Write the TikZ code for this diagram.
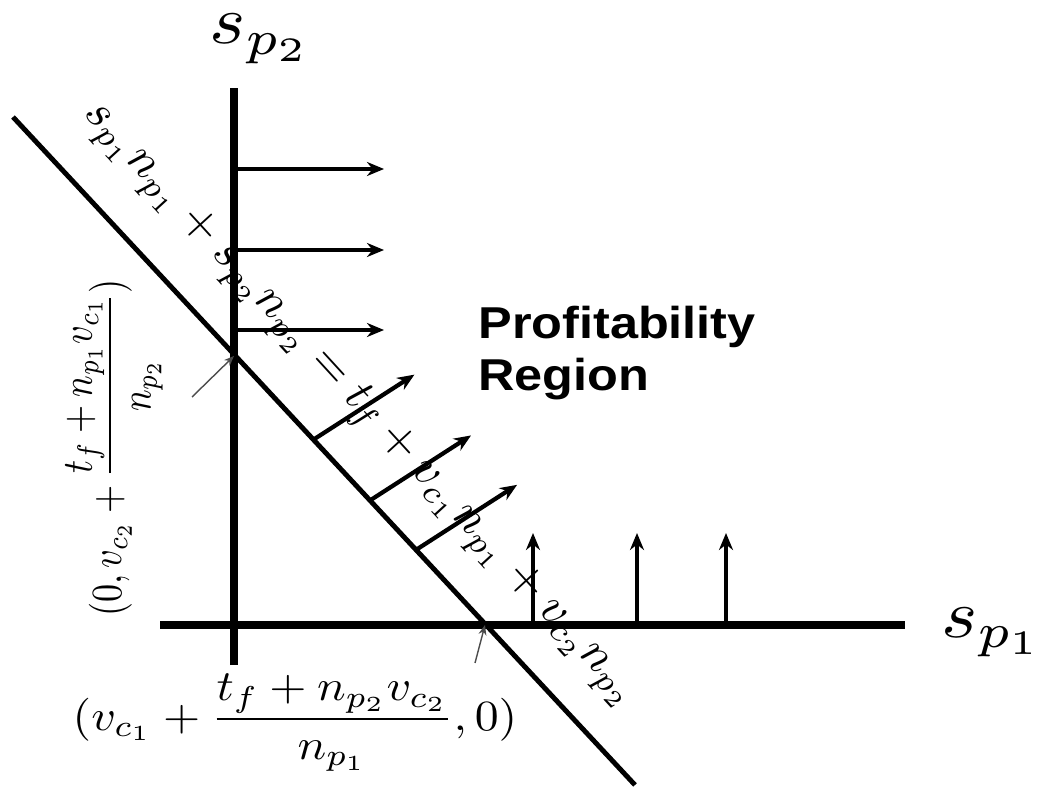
\documentclass[tikz,border=0pt]{standalone}
\usepackage{amsmath}
\usepackage{fontspec}
\setsansfont{Liberation Sans}
\usetikzlibrary{arrows.meta}

\begin{document}
\begin{tikzpicture}[
  x=0.02cm, y=-0.02cm,
  >={Stealth[length=3.4mm, width=2.8mm]},
  axis/.style={line width=4pt},
  cutline/.style={line width=2.8pt},
  flow/.style={->, line width=2.4pt},
  pointer/.style={-{Stealth[length=2mm, width=1.6mm]}, line width=0.8pt, black!70},
  axlbl/.style={inner sep=0pt, xscale=4.4, yscale=3.9},
  mathlbl/.style={inner sep=0pt},
  eqlbl/.style={inner sep=0pt, scale=2.7},
  region/.style={font=\fontsize{25.4}{29.6}\selectfont\sffamily\bfseries,
    align=left, inner sep=0pt, xscale=1.13},
]

\useasboundingbox (0,0) rectangle (1052,790);

% ---- Axes ----
\coordinate (vbot) at (234,665);
\coordinate (vtop) at (234,88);
\coordinate (hleft) at (160,625);
\coordinate (hright) at (905,625);
\draw[axis] (vbot) -- (vtop);
\draw[axis] (hleft) -- (hright);

\node[axlbl, anchor=base west] (sp2) at (208,44) {$s_{p_2}$};
\node[axlbl, anchor=base west] (sp1) at (940,637) {$s_{p_1}$};

% ---- Break-even line ----
\coordinate (ltop) at (13,117);
\coordinate (lbot) at (635,785);
\draw[cutline] (ltop) -- (lbot);

% intercepts with the axes
\coordinate (yint) at (234,356);
\coordinate (xint) at (485,625);

% ---- Direction arrows ----
\foreach \y [count=\i] in {169,250,330}
  {\coordinate (h\i) at (234,\y);
   \draw[flow] (h\i) -- ++(150,0);}

\foreach \t [count=\i] in {0.483,0.574,0.648}
  {\path (ltop) -- (lbot) coordinate[pos=\t] (d\i);
   \draw[flow] (d\i) -- ++(101,-65);}

\foreach \x [count=\i] in {533,637,726}
  {\coordinate (v\i) at (\x,625);
   \draw[flow] (v\i) -- ++(0,-92);}

% ---- Region label ----
\node[region, anchor=north west] (prof) at (478,306) {Profitability\\Region};

% ---- Intercept pointers ----
\coordinate (yptr) at (192,397);
\coordinate (xptr) at (475,663);
\draw[pointer] (yptr) -- (yint);
\draw[pointer] (xptr) -- (xint);

% ---- Intercept and line labels ----
\node[mathlbl, xscale=2.45, yscale=2.06, rotate=90, anchor=base] (ylbl) at (121,448)
  {$\displaystyle (0, v_{c_2} + \frac{t_f + n_{p_1} v_{c_1}}{n_{p_2}})$};
\node[mathlbl, xscale=2.72, yscale=2.45, anchor=base] (xlbl) at (295,730)
  {$\displaystyle (v_{c_1} + \frac{t_f + n_{p_2} v_{c_2}}{n_{p_1}}, 0)$};
\node[eqlbl, rotate=-47.5] (eq) at (360,405)
  {$s_{p_1} n_{p_1} + s_{p_2} n_{p_2} = t_f + v_{c_1} n_{p_1} + v_{c_2} n_{p_2}$};

\end{tikzpicture}
\end{document}
